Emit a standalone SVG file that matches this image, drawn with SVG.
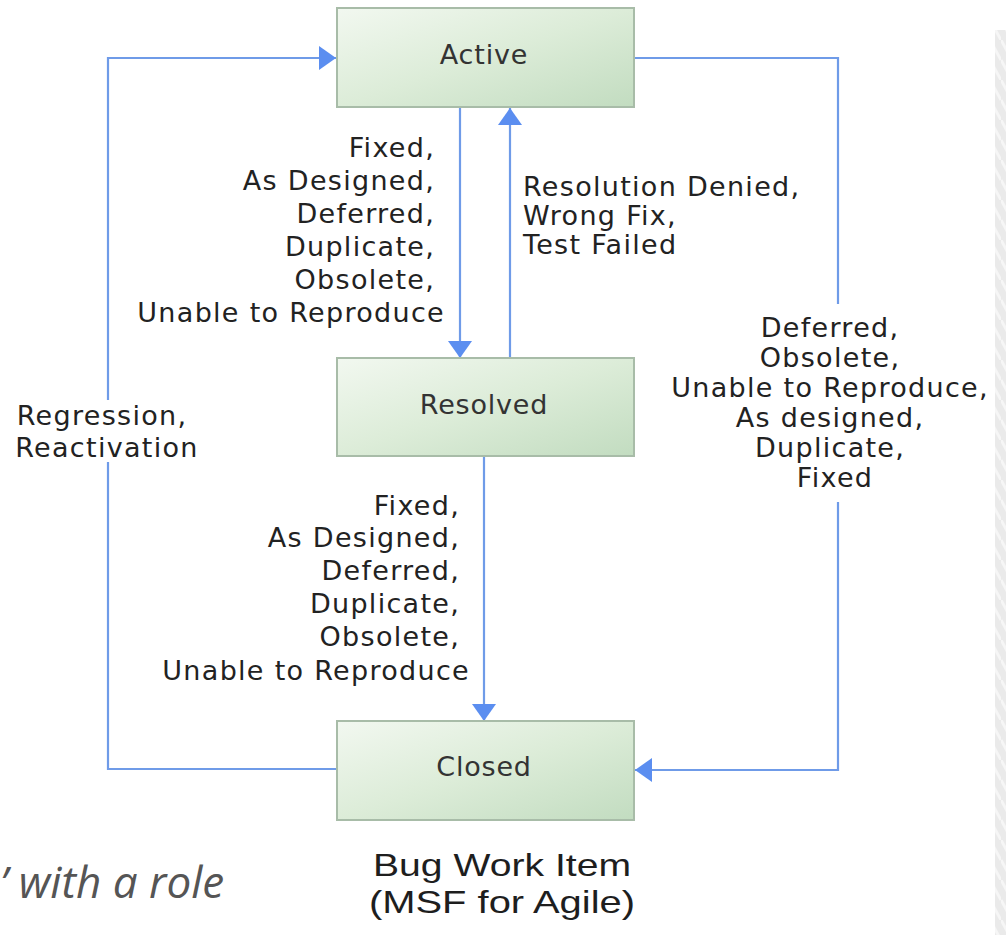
<svg xmlns="http://www.w3.org/2000/svg" width="1006" height="935" viewBox="0 0 1006 935">
<style>
.lbl{font-family:"DejaVu Sans",Verdana,sans-serif;font-size:27px;letter-spacing:1.3px;fill:#222222}
.box{stroke:#a8bca8;stroke-width:2;fill:url(#g)}
.bt{font-family:"DejaVu Sans",Verdana,sans-serif;font-size:27px;letter-spacing:0.8px;fill:#333333;text-anchor:middle}
.con{fill:none;stroke:#6f9be8;stroke-width:2.2}
.cap{font-family:"Liberation Sans",Arial,sans-serif;font-size:32px;fill:#1e1e1e;text-anchor:middle}
</style>
<defs>
<linearGradient id="g" x1="0" y1="0" x2="1" y2="1">
<stop offset="0" stop-color="#f2f8f0"/>
<stop offset="0.5" stop-color="#dcecd8"/>
<stop offset="1" stop-color="#c2dcc0"/>
</linearGradient>
<marker id="ah" markerUnits="userSpaceOnUse" markerWidth="18" markerHeight="26" refX="17" refY="13" orient="auto">
<path d="M0,1 L17,13 L0,25 z" fill="#5b8ef0"/>
</marker>
<pattern id="stripe" width="11" height="40" patternUnits="userSpaceOnUse">
<rect width="11" height="40" fill="#eaeaea"/>
<path d="M0,0 L11,20 M0,20 L11,40" stroke="#f6f6f6" stroke-width="3"/>
</pattern>
</defs>
<rect width="1006" height="935" fill="#ffffff"/>
<rect x="995" y="30" width="11" height="905" fill="url(#stripe)"/>

<g id="connectors">
<path class="con" d="M337,769 L108,769 L108,58 L336,58" marker-end="url(#ah)"/>
<path class="con" d="M634,58 L838,58 L838,770 L635,770" marker-end="url(#ah)"/>
<path class="con" d="M460,107 L460,358" marker-end="url(#ah)"/>
<path class="con" d="M510,358 L510,108" marker-end="url(#ah)"/>
<path class="con" d="M484,456 L484,721" marker-end="url(#ah)"/>
</g>

<g id="node-active">
<rect class="box" x="337" y="8" width="297" height="99"/>
<text class="bt" x="484" y="64">Active</text>
</g>
<g id="node-resolved">
<rect class="box" x="337" y="358" width="297" height="98"/>
<text class="bt" x="484" y="414">Resolved</text>
</g>
<g id="node-closed">
<rect class="box" x="337" y="721" width="297" height="99"/>
<text class="bt" x="484" y="776">Closed</text>
</g>

<g id="labels">
<text class="lbl" text-anchor="end">
<tspan x="445" y="157">Fixed,</tspan>
<tspan x="445" y="190">As Designed,</tspan>
<tspan x="445" y="223">Deferred,</tspan>
<tspan x="445" y="256">Duplicate,</tspan>
<tspan x="445" y="289">Obsolete,</tspan>
<tspan x="445" y="322">Unable to Reproduce</tspan>
</text>
<text class="lbl">
<tspan x="523" y="196">Resolution Denied,</tspan>
<tspan x="523" y="225">Wrong Fix,</tspan>
<tspan x="523" y="254">Test Failed</tspan>
</text>
<rect x="668" y="304" width="326" height="198" fill="#ffffff"/>
<text class="lbl" text-anchor="middle">
<tspan x="835" y="337">Deferred,</tspan>
<tspan x="835" y="367">Obsolete,</tspan>
<tspan x="835" y="397">Unable to Reproduce,</tspan>
<tspan x="835" y="427">As designed,</tspan>
<tspan x="835" y="457">Duplicate,</tspan>
<tspan x="835" y="487">Fixed</tspan>
</text>
<rect x="10" y="400" width="196" height="62" fill="#ffffff"/>
<text class="lbl" text-anchor="middle">
<tspan x="107" y="425">Regression,</tspan>
<tspan x="107" y="457">Reactivation</tspan>
</text>
<text class="lbl" text-anchor="end">
<tspan x="470" y="515">Fixed,</tspan>
<tspan x="470" y="547">As Designed,</tspan>
<tspan x="470" y="580">Deferred,</tspan>
<tspan x="470" y="613">Duplicate,</tspan>
<tspan x="470" y="646">Obsolete,</tspan>
<tspan x="470" y="680">Unable to Reproduce</tspan>
</text>
</g>

<g id="caption">
<text class="cap" x="502" y="876" textLength="258" lengthAdjust="spacingAndGlyphs">Bug Work Item</text>
<text class="cap" x="502" y="913" textLength="266" lengthAdjust="spacingAndGlyphs">(MSF for Agile)</text>
</g>
<text x="0" y="898" font-family="'Open Sans',sans-serif" font-style="italic" font-size="44" fill="#555555">’ with a role</text>
</svg>
